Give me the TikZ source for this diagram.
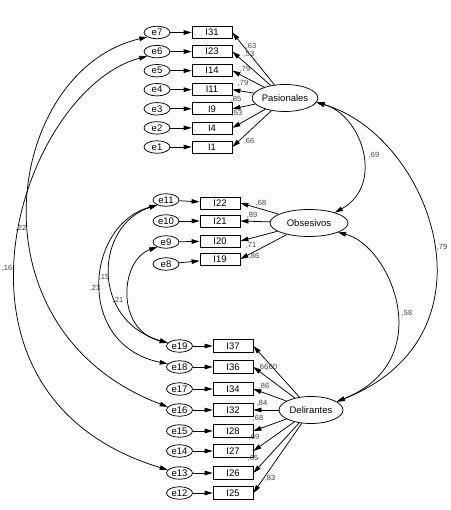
\documentclass[tikz,border=0pt]{standalone}
\usepackage{fontspec}
\setmainfont{Liberation Sans}
\usetikzlibrary{shapes.geometric,arrows.meta}
\begin{document}
\begin{tikzpicture}[x=1pt,y=-1pt,line width=0.75pt,
  obs/.style={draw, rectangle, minimum width=40pt, minimum height=12pt, inner sep=0pt, font=\fontsize{9.5}{10}\selectfont},
  err/.style={draw, ellipse, minimum width=26pt, minimum height=12.5pt, inner sep=0pt, font=\fontsize{9.5}{10}\selectfont},
  lat/.style={draw, ellipse, minimum height=27pt, inner sep=0pt, font=\fontsize{9.5}{10}\selectfont},
  arr/.style={-{Triangle[length=8pt,width=4.6pt]}},
  cov/.style={{Triangle[length=8pt,width=4.6pt]}-{Triangle[length=8pt,width=4.6pt]}},
  lab/.style={font=\fontsize{7.5}{8}\selectfont, text=black!75, inner sep=0pt}]
\useasboundingbox (0,0) rectangle (450,510);

% Pasionales block
\foreach \e/\i/\y in {7/31/32.5, 6/23/51.6, 5/14/70.7, 4/11/89.7, 3/9/108.8, 2/4/127.9, 1/1/147}{
  \node[err] (e\e) at (157,\y) {e\e};
  \node[obs] (I\i) at (212,\y) {I\i};
  \draw[arr] (e\e) -- (I\i);
}
\node[lat, minimum width=65pt] (P) at (285,98) {Pasionales};
\foreach \i in {31,23,14,11,9,4,1}{ \draw[arr] (P) -- (I\i.east); }
\node[lab] (l31) at (251,46) {,63};
\node[lab] (l23) at (249,54) {,53};
\node[lab] (l14) at (245,69) {,79};
\node[lab] (l11) at (243,83) {,79};
\node[lab] (l9) at (236,99) {,85};
\node[lab] (l4) at (237,113) {,53};
\node[lab] (l1) at (249,141) {,66};

% Obsesivos block
\node[err] (e11) at (166,200) {e11};
\node[err] (e10) at (166,221) {e10};
\node[err] (e9) at (166,242) {e9};
\node[err] (e8) at (166,264) {e8};
\node[obs] (I22) at (220,203) {I22};
\node[obs] (I21) at (220,221) {I21};
\node[obs] (I20) at (220,241) {I20};
\node[obs] (I19) at (220,259) {I19};
\draw[arr] (e11) -- (I22);
\draw[arr] (e10) -- (I21);
\draw[arr] (e9) -- (I20);
\draw[arr] (e8) -- (I19);
\node[lat, minimum width=78pt] (O) at (309,223) {Obsesivos};
\foreach \i in {22,21,20,19}{ \draw[arr] (O) -- (I\i.east); }
\node[lab] (l22) at (261,203) {,68};
\node[lab] (l21) at (252,215) {,89};
\node[lab] (l20) at (251,245) {,71};
\node[lab] (l19) at (254,256) {,86};

% Delirantes block
\foreach \e/\i/\y in {19/37/346, 18/36/367, 17/34/389, 16/32/410, 15/28/431, 14/27/451, 13/26/473, 12/25/493}{
  \node[err] (e\e) at (179.5,\y) {e\e};
  \node[obs, minimum height=13pt] (I\i) at (233,\y) {I\i};
  \draw[arr] (e\e) -- (I\i);
}
\node[lat, minimum width=64pt] (D) at (311,410) {Delirantes};
\foreach \i in {37,36,34,32,28,27,26,25}{ \draw[arr] (D) -- (I\i.east); }
\node[lab] (l36) at (263,367) {,66};
\node[lab] (l37) at (272,367) {,60};
\node[lab] (l34) at (264,386) {,86};
\node[lab] (l32) at (262,403) {,84};
\node[lab] (l28) at (258,418) {,68};
\node[lab] (l27) at (254,437) {,69};
\node[lab] (l26) at (253,458) {,65};
\node[lab] (l25) at (270,478) {,83};

% latent covariances
\draw[cov] (P.-8) .. controls (362,115) and (385,185) .. (O.22);
\draw[cov] (P.-8) .. controls (430,135) and (505,335) .. (D.18);
\draw[cov] (O.-18) .. controls (390,245) and (440,360) .. (D.18);
\node[lab] (cPO) at (374,155) {,69};
\node[lab] (cPD) at (442,247) {,79};
\node[lab] (cOD) at (407,313) {,58};

% error covariances
\draw[cov] (e7.205) .. controls (5,70) and (-35,330) .. (e16.165);
\draw[cov] (e6.205) .. controls (20,90) and (-80,395) .. (e13.165);
\draw[cov] (e11.210) .. controls (85,225) and (75,345) .. (e18.165);
\draw[cov] (e11.210) .. controls (95,225) and (90,320) .. (e19.165);
\draw[cov] (e9.210) .. controls (120,260) and (115,330) .. (e19.165);
\node[lab] (c716) at (21,228) {,22};
\node[lab] (c613) at (7,268) {,16};
\node[lab] (c1118) at (95,288) {,23};
\node[lab] (c1119) at (104,277) {,15};
\node[lab] (c919) at (118,300) {,21};
\end{tikzpicture}
\end{document}
